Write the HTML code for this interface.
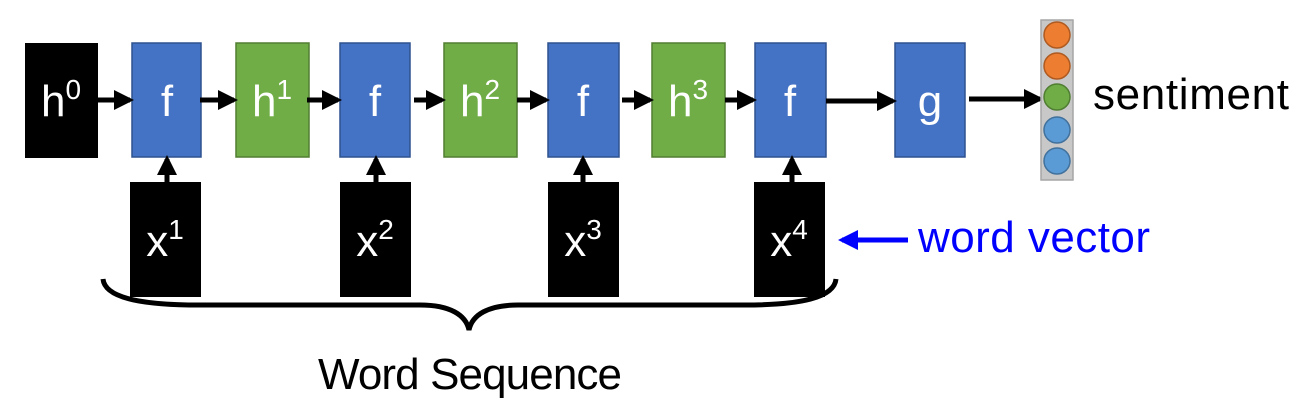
<!DOCTYPE html>
<html><head><meta charset="utf-8"><style>
html,body{margin:0;padding:0;background:#fff;}
svg{display:block;font-family:"Liberation Sans","DejaVu Sans",sans-serif;}
</style></head><body>
<svg width="1303" height="403" viewBox="0 0 1303 403">
<defs>
<marker id="ah" markerWidth="4" markerHeight="4" refX="3.2" refY="2" orient="auto" markerUnits="strokeWidth"><path d="M0,0 L4,2 L0,4 z" fill="#000"/></marker>
<marker id="bh" markerWidth="4" markerHeight="4" refX="3.2" refY="2" orient="auto" markerUnits="strokeWidth"><path d="M0,0 L4,2 L0,4 z" fill="#0000ff"/></marker>
</defs>
<g fill="#fff" font-size="44" text-anchor="middle">
<g><rect x="25" y="43" width="73" height="115" fill="#000"/><text x="61" y="116">h<tspan font-size="28" dy="-17">0</tspan></text></g>
<g><rect x="132" y="43" width="69" height="114" fill="#4472c4" stroke="#2f528f" stroke-width="1.5"/><text x="167" y="116">f</text></g>
<g><rect x="236" y="43" width="73" height="114" fill="#70ad47" stroke="#507e32" stroke-width="1.5"/><text x="272" y="116">h<tspan font-size="28" dy="-17">1</tspan></text></g>
<g><rect x="340" y="43" width="70" height="114" fill="#4472c4" stroke="#2f528f" stroke-width="1.5"/><text x="375" y="116">f</text></g>
<g><rect x="444" y="43" width="73" height="114" fill="#70ad47" stroke="#507e32" stroke-width="1.5"/><text x="480" y="116">h<tspan font-size="28" dy="-17">2</tspan></text></g>
<g><rect x="548" y="43" width="71" height="114" fill="#4472c4" stroke="#2f528f" stroke-width="1.5"/><text x="583" y="116">f</text></g>
<g><rect x="652" y="43" width="73" height="114" fill="#70ad47" stroke="#507e32" stroke-width="1.5"/><text x="688" y="116">h<tspan font-size="28" dy="-17">3</tspan></text></g>
<g><rect x="755" y="43" width="71" height="114" fill="#4472c4" stroke="#2f528f" stroke-width="1.5"/><text x="790" y="116">f</text></g>
<g><rect x="895" y="43" width="70" height="114" fill="#4472c4" stroke="#2f528f" stroke-width="1.5"/><text x="930" y="116">g</text></g>
<g><rect x="130" y="182" width="71" height="115" fill="#000"/><text x="165" y="256">x<tspan font-size="28" dy="-17">1</tspan></text></g>
<g><rect x="340" y="182" width="71" height="115" fill="#000"/><text x="375" y="256">x<tspan font-size="28" dy="-17">2</tspan></text></g>
<g><rect x="548" y="182" width="71" height="115" fill="#000"/><text x="583" y="256">x<tspan font-size="28" dy="-17">3</tspan></text></g>
<g><rect x="754" y="182" width="71" height="115" fill="#000"/><text x="789" y="256">x<tspan font-size="28" dy="-17">4</tspan></text></g>
</g>
<g stroke="#000" stroke-width="5">
<line x1="98" y1="100" x2="130" y2="100" marker-end="url(#ah)"/>
<line x1="200" y1="100" x2="234" y2="100" marker-end="url(#ah)"/>
<line x1="307" y1="100" x2="338" y2="100" marker-end="url(#ah)"/>
<line x1="414" y1="100" x2="442" y2="100" marker-end="url(#ah)"/>
<line x1="517" y1="100" x2="546" y2="100" marker-end="url(#ah)"/>
<line x1="622" y1="100" x2="650" y2="100" marker-end="url(#ah)"/>
<line x1="725" y1="100" x2="753" y2="100" marker-end="url(#ah)"/>
<line x1="826" y1="101" x2="893" y2="101" marker-end="url(#ah)"/>
<line x1="969" y1="99" x2="1040" y2="99" marker-end="url(#ah)"/>
<line x1="167" y1="182" x2="167" y2="159" marker-end="url(#ah)"/>
<line x1="376" y1="182" x2="376" y2="159" marker-end="url(#ah)"/>
<line x1="583" y1="182" x2="583" y2="159" marker-end="url(#ah)"/>
<line x1="792" y1="182" x2="792" y2="159" marker-end="url(#ah)"/>
</g>
<g>
<rect x="1041" y="20" width="32" height="160" fill="#c8c8c8" stroke="#a6a6a6" stroke-width="1.5"/>
<circle cx="1057" cy="35" r="13" fill="#ed7d31" stroke="#ae5a21" stroke-width="1.5"/>
<circle cx="1057" cy="66" r="13" fill="#ed7d31" stroke="#ae5a21" stroke-width="1.5"/>
<circle cx="1057" cy="97" r="13" fill="#70ad47" stroke="#507e32" stroke-width="1.5"/>
<circle cx="1057" cy="130" r="13" fill="#5b9bd5" stroke="#41719c" stroke-width="1.5"/>
<circle cx="1057" cy="161" r="13" fill="#5b9bd5" stroke="#41719c" stroke-width="1.5"/>
</g>
<text x="1093" y="109" font-size="44" fill="#000" textLength="196">sentiment</text>
<line x1="908" y1="240" x2="842" y2="240" stroke="#0000ff" stroke-width="5" marker-end="url(#bh)"/>
<text x="918" y="252" font-size="44" fill="#0000ff" textLength="232">word vector</text>
<path d="M103,279 C105,300 150,305 200,305 L420,305 C450,305 466,315 469,330 C472,315 488,305 518,305 L745,305 C800,305 834,298 836,279" fill="none" stroke="#000" stroke-width="5"/>
<text x="470" y="389" font-size="44" fill="#000" text-anchor="middle" textLength="304">Word Sequence</text>
</svg>
</body></html>
